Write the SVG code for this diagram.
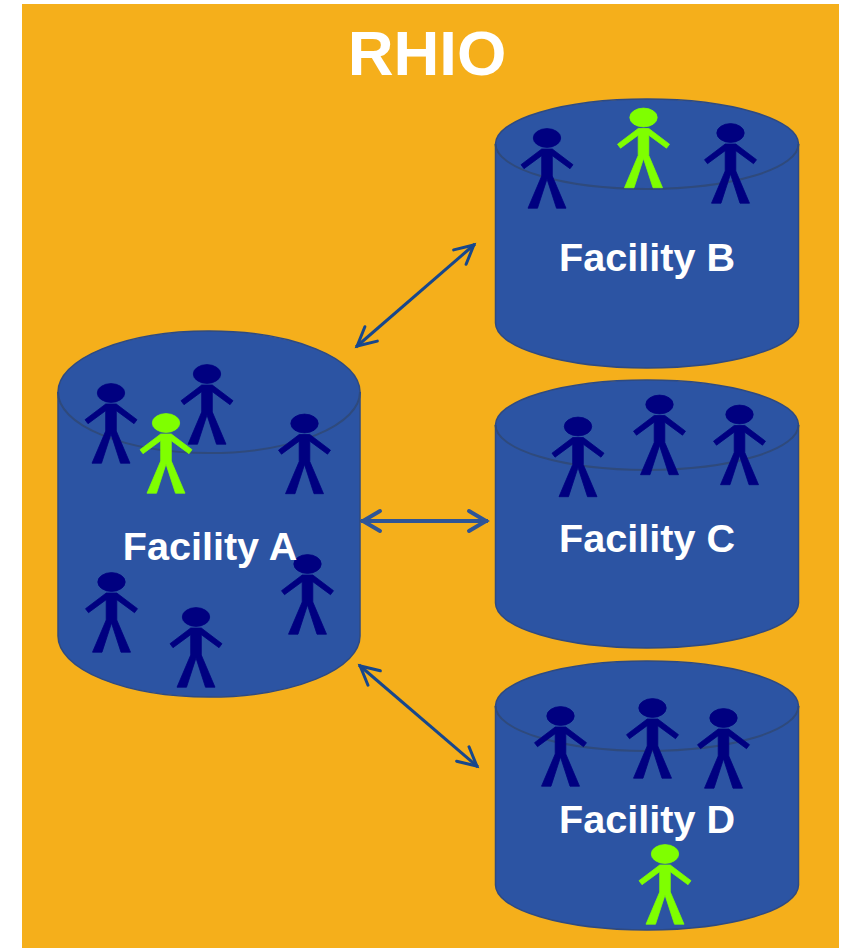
<svg xmlns="http://www.w3.org/2000/svg" width="851" height="948" viewBox="0 0 851 948">
<style>
.can{fill:#2c54a3;stroke:#2f4a80;stroke-width:1.5}
.rim{fill:none;stroke:#2f4a7c;stroke-width:2}
.label{font-family:"Liberation Sans",Arial,sans-serif;font-weight:bold;fill:#fff;text-anchor:middle}
.f{font-size:39.6px}
.navy{fill:#000080;stroke:#000080;stroke-width:.8}
.green{fill:#7fff00;stroke:#7fff00;stroke-width:.8}
.thin{fill:none;stroke:#17478c;stroke-width:3}
.thick{fill:none;stroke:#2f5597;stroke-width:4}
</style>
<defs>
<symbol id="person" overflow="visible">
<ellipse cx="0" cy="0" rx="13.7" ry="9.4"/>
<polygon points="-5.3,11 5.3,11 26,26.7 23,30.7 5.3,17.7 5.3,38 19,70.2 9.5,70.2 0,41 -9.5,70.2 -19,70.2 -5.3,38 -5.3,17.7 -23,30.7 -26,26.7"/>
</symbol>
<marker id="h1" markerUnits="userSpaceOnUse" markerWidth="30" markerHeight="30" refX="24" refY="15" viewBox="0 0 30 30" orient="auto-start-reverse">
<path d="M4,5.5 L22.5,15 L4,24.5" fill="none" stroke="#17478c" stroke-width="3" stroke-linecap="round"/>
</marker>
<marker id="h2" markerUnits="userSpaceOnUse" markerWidth="30" markerHeight="30" refX="24" refY="15" viewBox="0 0 30 30" orient="auto-start-reverse">
<path d="M5,5 L22,15 L5,25" fill="none" stroke="#2f5597" stroke-width="4" stroke-linecap="round"/>
</marker>
</defs>
<rect x="22" y="4" width="817" height="944" fill="#f5af1b"/>
<text class="label" x="427" y="75" font-size="63.5">RHIO</text>
<g id="connectors">
<line class="thin" x1="356" y1="347" x2="475" y2="244" marker-start="url(#h1)" marker-end="url(#h1)"/>
<line class="thick" x1="361" y1="521" x2="488" y2="521" marker-start="url(#h2)" marker-end="url(#h2)"/>
<line class="thin" x1="359" y1="665" x2="478" y2="767" marker-start="url(#h1)" marker-end="url(#h1)"/>
</g>
<g id="facility-a">
<path class="can" d="M58,392 V636 A151,61 0 0 0 360,636 V392 A151,61 0 0 0 58,392 Z"/>
<path class="rim" d="M58,392 A151,61 0 0 0 360,392"/>
<use href="#person" x="111" y="393" class="navy"/>
<use href="#person" x="207" y="374" class="navy"/>
<use href="#person" x="166" y="423" class="green"/>
<use href="#person" x="304.500" y="423.500" class="navy"/>
<use href="#person" x="111.500" y="582" class="navy"/>
<use href="#person" x="196" y="617" class="navy"/>
<use href="#person" x="307.500" y="564" class="navy"/>
<text class="label f" x="210" y="560">Facility A</text>
</g>
<g id="facility-b">
<path class="can" d="M495.500,144 V323 A151.500,45 0 0 0 798.500,323 V144 A151.500,45 0 0 0 495.500,144 Z"/>
<path class="rim" d="M495.500,144 A151.500,45 0 0 0 798.500,144"/>
<use href="#person" x="547" y="138" class="navy"/>
<use href="#person" x="643.500" y="117.500" class="green"/>
<use href="#person" x="730.500" y="133" class="navy"/>
<text class="label f" x="647" y="271">Facility B</text>
</g>
<g id="facility-c">
<path class="can" d="M495.500,425 V603 A151.500,45 0 0 0 798.500,603 V425 A151.500,45 0 0 0 495.500,425 Z"/>
<path class="rim" d="M495.500,425 A151.500,45 0 0 0 798.500,425"/>
<use href="#person" x="578" y="426.500" class="navy"/>
<use href="#person" x="659.500" y="404.500" class="navy"/>
<use href="#person" x="739.500" y="414.500" class="navy"/>
<text class="label f" x="647" y="552">Facility C</text>
</g>
<g id="facility-d">
<path class="can" d="M495.500,706 V885 A151.500,45 0 0 0 798.500,885 V706 A151.500,45 0 0 0 495.500,706 Z"/>
<path class="rim" d="M495.500,706 A151.500,45 0 0 0 798.500,706"/>
<use href="#person" x="560.500" y="716" class="navy"/>
<use href="#person" x="652.500" y="708" class="navy"/>
<use href="#person" x="723.500" y="718" class="navy"/>
<use href="#person" x="665" y="854" class="green"/>
<text class="label f" x="647" y="833">Facility D</text>
</g>
</svg>
